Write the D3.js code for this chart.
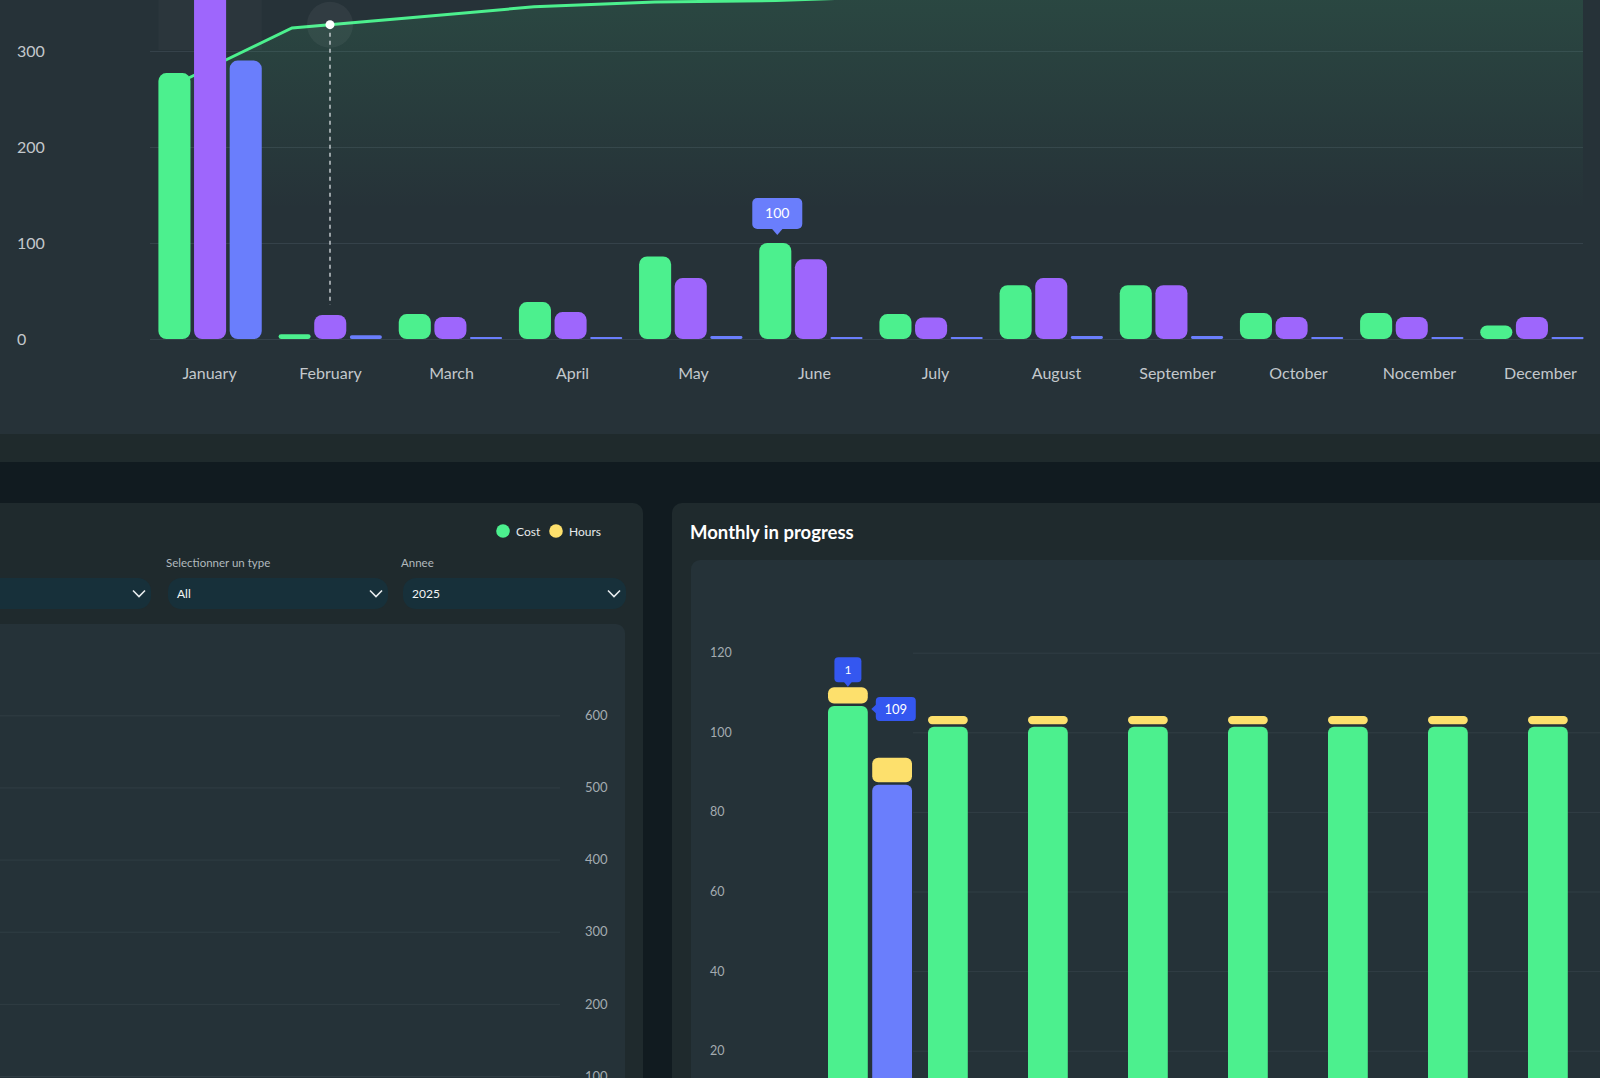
<!DOCTYPE html>
<html>
<head>
<meta charset="utf-8">
<script src="https://cdn.jsdelivr.net/npm/d3@7"></script>
<style>
  html, body { margin: 0; padding: 0; background: #111b20; overflow: hidden; }
  text { font-family: Lato, "Open Sans", sans-serif; }
</style>
</head>
<body>
<svg id="chart" width="1600" height="1078"></svg>
<script>
// --- data ---
const months = ['January', 'February', 'March', 'April', 'May', 'June', 'July',
  'August', 'September', 'October', 'Nocember', 'December']

// top chart: three bar series + cumulative line
const greenVals = [277, 5, 26, 38.5, 86, 100, 26, 56, 56, 27, 27, 14]
const purpleVals = [380, 25, 23, 28, 63.5, 83, 22.5, 63.5, 56, 23, 23, 23]
const blueVals = [290, 4, 1, 1, 3, 1, 1, 3, 3, 1, 1, 1]
const lineVals = [263, 324, 335, 346, 351, 352.5, 357, 361, 365, 368, 370, 372]
const topTicks = [0, 100, 200, 300]

// bottom left chart (empty, only its right axis is visible)
const leftTicks = [100, 200, 300, 400, 500, 600]
const legendItems = ['Cost', 'Hours']
const filters = [
  { label: '', value: '' },
  { label: 'Selectionner un type', value: 'All' },
  { label: 'Annee', value: '2025' }
]

// bottom right chart: "Monthly in progress"
const progCost = [106.6, 101.4, 101.4, 101.4, 101.4, 101.4, 101.4, 101.4, 101.4, 101.4, 101.4, 101.4]
const progCostHours = [4.7, 2.7, 2.7, 2.7, 2.7, 2.7, 2.7, 2.7, 2.7, 2.7, 2.7, 2.7]
const progOther = [86.8, 0, 0, 0, 0, 0, 0, 0, 0, 0, 0, 0]
const progOtherHours = [6.8, 0, 0, 0, 0, 0, 0, 0, 0, 0, 0, 0]
const progTicks = [20, 40, 60, 80, 100, 120]
const progTips = ['1', '109']

const green = '#4cf08e'
const purple = '#9e66fc'
const blue = '#6a7efc'
const yellow = '#fde06c'
const tipBlue = '#3457f0'

const svg = d3.select('#chart')

// --- backgrounds ---
svg.append('rect').attr('x', 0).attr('y', 0).attr('width', 1600).attr('height', 434).attr('fill', '#263238')
svg.append('rect').attr('x', 0).attr('y', 434).attr('width', 1600).attr('height', 28).attr('fill', '#1f2a2c')
svg.append('rect').attr('x', -20).attr('y', 503).attr('width', 663).attr('height', 600).attr('rx', 10).attr('fill', '#1f2a2d')
svg.append('rect').attr('x', 672).attr('y', 503).attr('width', 960).attr('height', 600).attr('rx', 10).attr('fill', '#1f2a2d')

// ================= top chart =================
const plotL = 150
const plotR = 1583
const yTop = d3.scaleLinear().domain([0, 300]).range([339, 51])
const xTop = d3.scaleBand().domain(months).range([156, 1586]).paddingInner(0.14).paddingOuter(0.02)
const xSub = d3.scaleBand().domain(['g', 'p', 'b']).range([0, xTop.bandwidth()]).paddingInner(0.1)
const xLabel = d3.scalePoint().domain(months).range([209, 1540])
const xLine = d3.scalePoint().domain(months).range([171, 1502])

const topG = svg.append('g')

topG.append('defs').html(
  '<clipPath id="plotClip"><rect x="' + plotL + '" y="0" width="' + (plotR - plotL) + '" height="340"></rect></clipPath>' +
  '<linearGradient id="areaFill" gradientUnits="userSpaceOnUse" x1="0" y1="0" x2="0" y2="339">' +
  '<stop offset="0" stop-color="' + green + '" stop-opacity="0.11"></stop>' +
  '<stop offset="0.62" stop-color="' + green + '" stop-opacity="0"></stop></linearGradient>')

// grid
topG.append('g')
  .attr('transform', 'translate(' + plotL + ',0)')
  .call(d3.axisLeft(yTop).tickValues(topTicks).tickSize(-(plotR - plotL)).tickFormat(''))
  .call(g => g.select('.domain').remove())
  .call(g => g.selectAll('line').attr('stroke', '#35424a'))

// y labels
topG.append('g')
  .call(d3.axisLeft(yTop).tickValues(topTicks).tickSize(0))
  .call(g => g.select('.domain').remove())
  .call(g => g.selectAll('text').attr('x', 17).attr('text-anchor', 'start')
    .attr('font-size', 16).attr('fill', '#c3c8cc').style('font-family', 'Lato'))

// hover band over January
topG.append('rect')
  .attr('x', xTop('January')).attr('y', 0).attr('width', xTop.bandwidth()).attr('height', 50)
  .attr('fill', '#ffffff').attr('opacity', 0.025)

// area + line (the area keeps its last value up to the plot edge)
const lineData = months.map((m, i) => ({ x: xLine(m), v: lineVals[i] }))
const areaData = lineData.concat([{ x: plotR, v: lineVals[lineVals.length - 1] }])
const plot = topG.append('g').attr('clip-path', 'url(#plotClip)')
plot.append('path')
  .datum(areaData)
  .attr('fill', 'url(#areaFill)')
  .attr('d', d3.area().x(d => d.x).y0(yTop(0)).y1(d => yTop(d.v)))
plot.append('path')
  .datum(lineData)
  .attr('fill', 'none').attr('stroke', green).attr('stroke-width', 3)
  .attr('d', d3.line().x(d => d.x).y(d => yTop(d.v)))

// bars
const series = [
  { key: 'g', vals: greenVals, color: green },
  { key: 'p', vals: purpleVals, color: purple },
  { key: 'b', vals: blueVals, color: blue }
]
series.forEach(s => {
  topG.append('g').selectAll('rect')
    .data(months.map((m, i) => ({ m, v: s.vals[i] })))
    .join('rect')
    .attr('x', d => xTop(d.m) + xSub(s.key))
    .attr('width', xSub.bandwidth())
    .attr('y', d => Math.min(yTop(d.v), yTop(0) - 2))
    .attr('height', d => Math.max(yTop(0) - yTop(d.v), 2))
    .attr('rx', d => Math.min(8, Math.max(yTop(0) - yTop(d.v), 2) / 2))
    .attr('fill', s.color)
})

// x labels
topG.append('g')
  .attr('transform', 'translate(0,365)')
  .call(d3.axisBottom(xLabel).tickSize(0))
  .call(g => g.select('.domain').remove())
  .call(g => g.selectAll('text').attr('dy', '0.71em').attr('font-size', 16)
    .attr('fill', '#c3c8cc').style('font-family', 'Lato'))

// hover cursor on February
const hx = xLabel('February')
const lx0 = xLine('February')
const lx1 = xLine('March')
const hv = lineVals[1] + (lineVals[2] - lineVals[1]) * (hx - lx0) / (lx1 - lx0)
topG.append('circle').attr('cx', hx).attr('cy', yTop(hv)).attr('r', 23).attr('fill', '#ffffff').attr('opacity', 0.05)
topG.append('line')
  .attr('x1', hx).attr('x2', hx).attr('y1', yTop(hv)).attr('y2', yTop(purpleVals[1]) - 10)
  .attr('stroke', '#d8dde0').attr('stroke-width', 1.3).attr('stroke-dasharray', '4,4')
topG.append('circle').attr('cx', hx).attr('cy', yTop(hv)).attr('r', 4.5).attr('fill', '#ffffff')

// tooltip on June
const tipX = xTop('June') + xSub('g') + xSub.bandwidth() / 2 + 2
const tipB = yTop(greenVals[5]) - 14
const tipG = topG.append('g')
tipG.append('rect').attr('x', tipX - 25).attr('y', tipB - 31).attr('width', 50).attr('height', 31)
  .attr('rx', 5).attr('fill', blue)
tipG.append('path')
  .attr('d', 'M' + (tipX - 6) + ',' + (tipB - 1) + 'L' + tipX + ',' + (tipB + 6) + 'L' + (tipX + 6) + ',' + (tipB - 1) + 'Z')
  .attr('fill', blue)
tipG.append('text').attr('x', tipX).attr('y', tipB - 15.5).attr('dy', '0.35em')
  .attr('text-anchor', 'middle').attr('font-size', 14).attr('fill', '#ffffff')
  .text(greenVals[5])

// ================= bottom left =================
const bl = svg.append('g')
const legendColors = [green, yellow]
const legendX = [503, 556]
legendItems.forEach((t, i) => {
  bl.append('circle').attr('cx', legendX[i]).attr('cy', 531).attr('r', 6.8).attr('fill', legendColors[i])
  bl.append('text').attr('x', legendX[i] + 13).attr('y', 535.5).attr('font-size', 12)
    .attr('fill', '#e6eaec').text(t)
})

const dropX = [-20, 168, 403]
const dropW = [171, 220, 223]
filters.forEach((f, i) => {
  if (f.label) {
    bl.append('text').attr('x', dropX[i] - 2).attr('y', 567).attr('font-size', 11.5)
      .attr('fill', '#b1b9bd').text(f.label)
  }
  bl.append('rect').attr('x', dropX[i]).attr('y', 578).attr('width', dropW[i]).attr('height', 31)
    .attr('rx', 13).attr('fill', '#17303a')
  if (f.value) {
    bl.append('text').attr('x', dropX[i] + 9).attr('y', 597.5).attr('font-size', 12)
      .attr('fill', '#f2f4f5').text(f.value)
  }
  const cx = dropX[i] + dropW[i] - 12
  bl.append('path')
    .attr('d', 'M' + (cx - 6) + ',590.5L' + cx + ',596.5L' + (cx + 6) + ',590.5')
    .attr('fill', 'none').attr('stroke', '#e8ecee').attr('stroke-width', 1.6)
})

bl.append('rect').attr('x', -20).attr('y', 624).attr('width', 645).attr('height', 500)
  .attr('rx', 9).attr('fill', '#253238')

const yLeft = d3.scaleLinear().domain([100, 600]).range([1076, 715.3])
bl.append('g')
  .call(d3.axisLeft(yLeft).tickValues(leftTicks).tickSize(-560).tickFormat(''))
  .call(g => g.select('.domain').remove())
  .call(g => g.selectAll('line').attr('stroke', '#303d44'))
bl.append('g')
  .attr('transform', 'translate(585,0)')
  .call(d3.axisRight(yLeft).tickValues(leftTicks).tickSize(0))
  .call(g => g.select('.domain').remove())
  .call(g => g.selectAll('text').attr('x', 0).attr('font-size', 13)
    .attr('fill', '#a3abb0').style('font-family', 'Lato'))

// ================= bottom right =================
const br = svg.append('g')
br.append('text').attr('x', 690).attr('y', 539).attr('font-size', 18.5).attr('font-weight', 700)
  .attr('fill', '#ffffff').text('Monthly in progress')
br.append('rect').attr('x', 691).attr('y', 560).attr('width', 960).attr('height', 560)
  .attr('rx', 9).attr('fill', '#253238')

const yBR = d3.scaleLinear().domain([0, 120]).range([1130.3, 652.7])
const xBR = d3.scaleBand().domain(months).range([820, 2020]).paddingInner(0.16).paddingOuter(0.08)
const xBRSub = d3.scaleBand().domain(['cost', 'other']).range([0, xBR.bandwidth()]).paddingInner(0.1)

br.append('g')
  .attr('transform', 'translate(913,0)')
  .call(d3.axisLeft(yBR).tickValues(progTicks).tickSize(-700).tickFormat(''))
  .call(g => g.select('.domain').remove())
  .call(g => g.selectAll('line').attr('stroke', '#313e45'))
br.append('g')
  .call(d3.axisLeft(yBR).tickValues(progTicks).tickSize(0))
  .call(g => g.select('.domain').remove())
  .call(g => g.selectAll('text').attr('x', 710).attr('text-anchor', 'start').attr('font-size', 12.5)
    .attr('fill', '#a3abb0').style('font-family', 'Lato'))

const gap = 2.5
const stacks = [
  { key: 'cost', base: progCost, hrs: progCostHours, color: green },
  { key: 'other', base: progOther, hrs: progOtherHours, color: blue }
]
stacks.forEach(s => {
  const rows = months.map((m, i) => ({ m, v: s.base[i], h: s.hrs[i] })).filter(d => d.v > 0)
  br.append('g').selectAll('rect')
    .data(rows)
    .join('rect')
    .attr('x', d => xBR(d.m) + xBRSub(s.key))
    .attr('width', xBRSub.bandwidth())
    .attr('y', d => yBR(d.v))
    .attr('height', d => yBR(0) - yBR(d.v))
    .attr('rx', 6)
    .attr('fill', s.color)
  br.append('g').selectAll('rect')
    .data(rows.filter(d => d.h > 0))
    .join('rect')
    .attr('x', d => xBR(d.m) + xBRSub(s.key))
    .attr('width', xBRSub.bandwidth())
    .attr('y', d => yBR(d.v + d.h))
    .attr('height', d => yBR(d.v) - yBR(d.v + d.h) - gap)
    .attr('rx', d => Math.min(6, (yBR(d.v) - yBR(d.v + d.h) - gap) / 2))
    .attr('fill', yellow)
})

// tooltips on the first month
const bx = xBR(months[0]) + xBRSub('cost')
const bcx = bx + xBRSub.bandwidth() / 2
const hTop = yBR(progCost[0] + progCostHours[0])
const t1 = br.append('g')
t1.append('rect').attr('x', bcx - 13.5).attr('y', hTop - 30).attr('width', 27).attr('height', 25)
  .attr('rx', 4).attr('fill', tipBlue)
t1.append('path')
  .attr('d', 'M' + (bcx - 4.5) + ',' + (hTop - 6) + 'L' + bcx + ',' + (hTop - 0.5) + 'L' + (bcx + 4.5) + ',' + (hTop - 6) + 'Z')
  .attr('fill', tipBlue)
t1.append('text').attr('x', bcx).attr('y', hTop - 17.5).attr('dy', '0.35em').attr('text-anchor', 'middle')
  .attr('font-size', 12).attr('fill', '#ffffff').text(progTips[0])

const rx0 = bx + xBRSub.bandwidth()
const cy2 = yBR(progCost[0]) + 3
const t2 = br.append('g')
t2.append('rect').attr('x', rx0 + 8).attr('y', cy2 - 12).attr('width', 40).attr('height', 24)
  .attr('rx', 4).attr('fill', tipBlue)
t2.append('path')
  .attr('d', 'M' + (rx0 + 9) + ',' + (cy2 - 5) + 'L' + (rx0 + 3.5) + ',' + cy2 + 'L' + (rx0 + 9) + ',' + (cy2 + 5) + 'Z')
  .attr('fill', tipBlue)
t2.append('text').attr('x', rx0 + 28).attr('y', cy2).attr('dy', '0.35em').attr('text-anchor', 'middle')
  .attr('font-size', 13).attr('fill', '#ffffff').text(progTips[1])
</script>
</body>
</html>
